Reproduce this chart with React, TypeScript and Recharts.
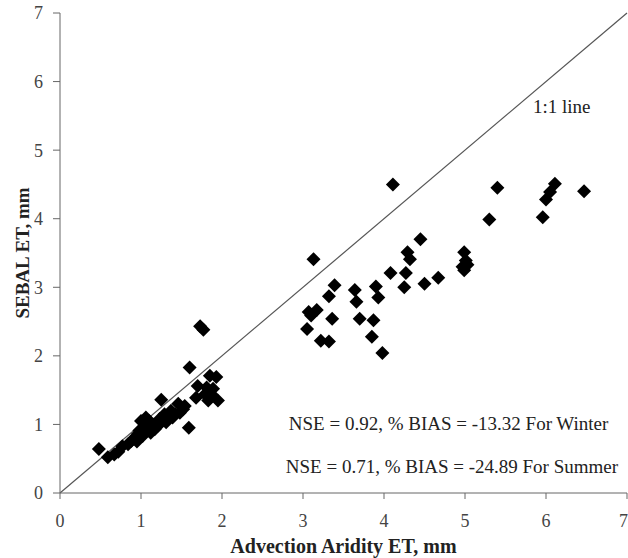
import {
  ScatterChart,
  Scatter,
  XAxis,
  YAxis,
  ReferenceLine,
  ReferenceDot,
} from "recharts";

// Advection Aridity ET (x) vs SEBAL ET (y), mm
const winterAA = [
  0.48, 0.59, 0.67, 0.72, 0.77, 0.84, 0.88, 0.92, 0.96, 0.98, 1.02, 1.04, 1.08,
  1.1, 1.12, 1.15, 1.17, 1.21, 1.23, 1.25, 1.29, 1.31, 1.33, 1.37, 1.39, 1.42,
  1.46, 1.48, 1.52, 1.54, 1.59, 1.6, 1.68, 1.7, 1.73, 1.77, 1.79, 1.81,
  1.83, 1.85, 1.87, 1.89, 1.93, 1.95, 1.0, 1.06, 0.95,
];
const winterSebal = [
  0.64, 0.52, 0.56, 0.6, 0.68, 0.71, 0.76, 0.8, 0.86, 0.91, 0.83, 0.95, 0.93,
  1.05, 0.88, 1.0, 0.93, 0.98, 1.08, 1.36, 1.15, 1.03, 1.1, 1.2, 1.1, 1.15, 1.3,
  1.17, 1.22, 1.27, 0.95, 1.83, 1.39, 1.56, 2.43, 2.38, 1.44, 1.54, 1.35,
  1.71, 1.44, 1.52, 1.69, 1.35, 1.05, 1.1, 0.75,
];

const summerAA = [
  3.05, 3.07, 3.1, 3.13, 3.17, 3.22, 3.32, 3.32, 3.36, 3.39, 3.64, 3.66, 3.7,
  3.85, 3.87, 3.9, 3.93, 3.98, 4.08, 4.11, 4.25, 4.27, 4.29, 4.32, 4.45, 4.5,
  4.67, 4.97, 4.99, 5.01, 4.99, 5.03, 5.3, 5.4, 5.96, 6.0, 6.05, 6.11, 6.47,
];
const summerSebal = [
  2.39, 2.64, 2.59, 3.41, 2.67, 2.22, 2.21, 2.87, 2.54, 3.03, 2.96, 2.79, 2.54,
  2.28, 2.52, 3.01, 2.85, 2.04, 3.21, 4.5, 3.0, 3.21, 3.51, 3.41, 3.7, 3.05,
  3.14, 3.3, 3.51, 3.39, 3.25, 3.33, 3.99, 4.45, 4.02, 4.28, 4.39, 4.51, 4.4,
];

const axisTicks = [0, 1, 2, 3, 4, 5, 6, 7];

const toPoints = (xs: number[], ys: number[]) =>
  xs.map((x, i) => ({ x, y: ys[i] }));

const winterData = toPoints(winterAA, winterSebal);
const summerData = toPoints(summerAA, summerSebal);

const FONT = "'Liberation Serif', 'Times New Roman', serif";
const AXIS = "#666";

// filled diamond marker (square turned 45deg)
const Diamond = (props: any) => {
  const { cx, cy } = props;
  const r = 7;
  return (
    <path
      d={`M${cx},${cy - r}L${cx + r},${cy}L${cx},${cy + r}L${cx - r},${cy}Z`}
      fill="#000"
    />
  );
};

const note = (text: string, anchor: "start" | "end") => (props: any) => {
  const vb = props.viewBox || {};
  return (
    <text
      x={vb.x}
      y={vb.y}
      textAnchor={anchor}
      fontFamily={FONT}
      fontSize={19}
      fill="#222"
    >
      {text}
    </text>
  );
};

export default function App() {
  return (
    <div style={{ position: "absolute", left: 0, top: 0 }}>
      <ScatterChart
        width={628}
        height={558}
        margin={{ top: 13, right: 1, left: 0, bottom: 0 }}
      >
        <XAxis
          type="number"
          dataKey="x"
          domain={[0, 7]}
          ticks={axisTicks}
          height={65}
          stroke={AXIS}
          tickSize={6}
          tickMargin={15}
          tick={{ fontFamily: FONT, fontSize: 18, fill: "#444" }}
          label={{
            value: "Advection Aridity ET, mm",
            position: "insideBottom",
            offset: 5,
            style: {
              fontFamily: FONT,
              fontSize: 20,
              fontWeight: "bold",
              fill: "#222",
            },
          }}
        />
        <YAxis
          type="number"
          dataKey="y"
          domain={[0, 7]}
          ticks={axisTicks}
          width={60}
          stroke={AXIS}
          tickSize={7}
          tickMargin={10}
          tick={{ fontFamily: FONT, fontSize: 18, fill: "#444" }}
          label={{
            value: "SEBAL ET, mm",
            angle: -90,
            position: "insideLeft",
            offset: 22,
            style: {
              textAnchor: "middle",
              fontFamily: FONT,
              fontSize: 19,
              fontWeight: "bold",
              fill: "#222",
            },
          }}
        />
        <ReferenceLine
          segment={[
            { x: 0, y: 0 },
            { x: 7, y: 7 },
          ]}
          stroke="#555"
          strokeWidth={1.2}
        />
        <Scatter
          data={winterData}
          shape={Diamond}
          isAnimationActive={false}
        />
        <Scatter
          data={summerData}
          shape={Diamond}
          isAnimationActive={false}
        />
        <ReferenceDot
          x={5.84}
          y={5.54}
          r={0}
          stroke="none"
          label={{ content: note("1:1 line", "start") }}
        />
        <ReferenceDot
          x={6.77}
          y={0.92}
          r={0}
          stroke="none"
          label={{
            content: note("NSE = 0.92, % BIAS = -13.32 For Winter", "end"),
          }}
        />
        <ReferenceDot
          x={6.89}
          y={0.29}
          r={0}
          stroke="none"
          label={{
            content: note("NSE = 0.71, % BIAS = -24.89 For Summer", "end"),
          }}
        />
      </ScatterChart>
    </div>
  );
}
